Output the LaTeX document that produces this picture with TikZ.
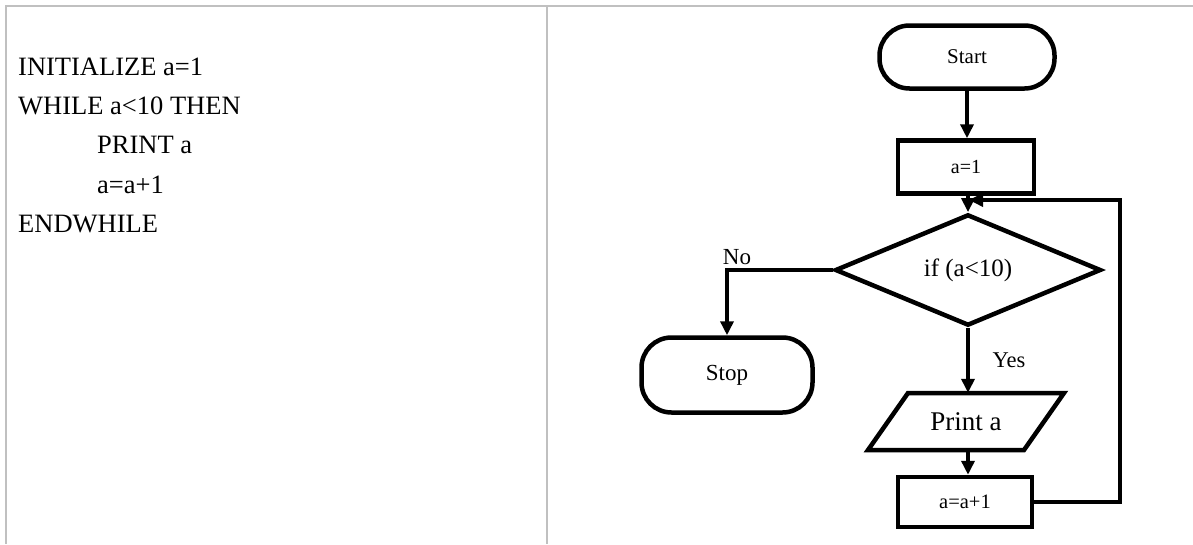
\documentclass[tikz,border=0pt]{standalone}
\usepackage{fontspec}
\setmainfont{Liberation Serif}
\usetikzlibrary{shapes.geometric,arrows.meta,calc}
\definecolor{rule}{RGB}{192,192,192}
\tikzset{
  fl/.style={line width=4.5pt, draw=black},
  arr/.style={fl, -{Triangle[width=13pt,length=14pt]}},
  term/.style={fl, rectangle, rounded corners=30pt, inner sep=0pt},
  procbox/.style={fl, rectangle, inner sep=0pt},
  code/.style={anchor=base west, inner sep=0pt, font=\fontsize{26.5}{30}\selectfont},
  border/.style={line width=2pt, draw=rule}
}
\newcommand{\fsz}[1]{\fontsize{#1}{#1}\selectfont}
\begin{document}
\begin{tikzpicture}[x=1pt,y=-1pt]
\useasboundingbox (0,0) rectangle (1193,544);
% table borders
\draw[border] (5,5.5) -- (1193,5.5);
\draw[border] (5.5,5) -- (5.5,544);
\draw[border] (547,5) -- (547,544);
% code
\node[code] (l1) at (18,75) {INITIALIZE a=1};
\node[code] (l2) at (18,114) {WHILE a<10 THEN};
\node[code] (l3) at (97,153) {PRINT a};
\node[code] (l4) at (97,193) {a=a+1};
\node[code] (l5) at (18,232) {ENDWHILE};
% flowchart
\node[term, minimum width=175pt, minimum height=63pt, font=\fsz{21}] (start) at (967,57) {Start};
\node[procbox, minimum width=136pt, minimum height=53pt, font=\fsz{20}] (init) at (966,167) {a=1};
\node[fl, diamond, inner sep=0pt, minimum width=266pt, minimum height=105pt, font=\fsz{25}] (cond) at (968,270) {if (a<10)};
\node[term, minimum width=171pt, minimum height=75pt, font=\fsz{23}] (stop) at (727,375) {Stop};
\node[inner sep=0pt, minimum width=156pt, minimum height=57pt, font=\fsz{27}] (print) at (966,421.5) {Print a};
\draw[fl, line join=miter] ($(print.center)+(-58,-28.5)$) -- ++(156,0) -- ++(-40,57) -- ++(-156,0) -- cycle;
\node[procbox, minimum width=134pt, minimum height=50pt, font=\fsz{20.5}] (inc) at (965,502) {a=a+1};
\node[inner sep=0pt, font=\fsz{23}] (no) at (737,257) {No};
\node[inner sep=0pt, font=\fsz{22.5}] (yes) at (1009,360) {Yes};
\coordinate (nocorner) at (stop.north |- cond.west);
\coordinate (loopR) at (1120,200);
\coordinate (loopE) at (969,200);
\draw[arr] (start.south) -- (start.south |- init.north);
\draw[arr] (init.south -| cond.north) -- (cond.north);
\draw[arr] (cond.west) -- (nocorner) -- (stop.north);
\draw[arr] (cond.south) -- (cond.south |- print.north);
\draw[arr] (cond.south |- print.south) -- (cond.south |- inc.north);
\draw[arr, line join=miter] (inc.east) -- (inc.east -| loopR) -- (loopR) -- (loopE);
\end{tikzpicture}
\end{document}
